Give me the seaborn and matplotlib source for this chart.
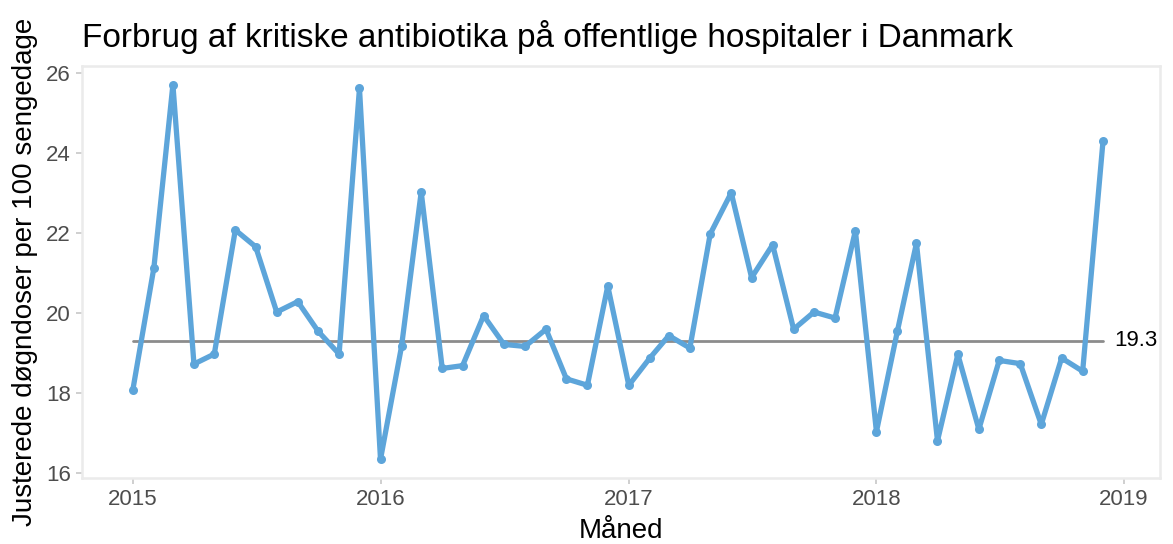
import matplotlib
matplotlib.use("Agg")
import matplotlib.pyplot as plt
import seaborn as sns
import pandas as pd

months = pd.date_range("2015-01-01", "2018-12-01", freq="MS")
values = [18.08, 21.13, 25.70, 18.72, 18.97, 22.07, 21.65, 20.02, 20.28, 19.54, 18.97, 25.61,
          16.34, 19.16, 23.02, 18.61, 18.68, 19.93, 19.21, 19.16, 19.59, 18.35, 18.19, 20.67,
          18.19, 18.87, 19.43, 19.12, 21.97, 23.00, 20.88, 21.70, 19.59, 20.02, 19.87, 22.05,
          17.03, 19.55, 21.74, 16.80, 18.96, 17.09, 18.81, 18.73, 17.21, 18.87, 18.54, 24.29]
mean_value = 19.3
year_ticks = ["2015", "2016", "2017", "2018", "2019"]
y_ticks = [16, 18, 20, 22, 24, 26]

title = "Forbrug af kritiske antibiotika på offentlige hospitaler i Danmark"
xlabel = "Måned"
ylabel = "Justerede døgndoser per 100 sengedage"

sns.set_theme(style="white")
plt.rcParams["font.family"] = ["Liberation Sans", "DejaVu Sans"]

df = pd.DataFrame({"Måned": months, "value": values})

fig = plt.figure(figsize=(11.73, 5.44), dpi=100)
ax = fig.add_axes([82/1173, 1 - 478/544, (1160-82)/1173, (478-66)/544])

ax.plot([months[0], months[-1]], [mean_value, mean_value], color="#8C8C8C", lw=2.0, zorder=1)
sns.lineplot(data=df, x="Måned", y="value", ax=ax, color="#5DA5DA", lw=3.8,
             marker="o", markersize=6.5, markeredgewidth=0, zorder=2)
ax.text(months[-1] + pd.Timedelta(days=17), mean_value, f"{mean_value}", va="center", ha="left",
        fontsize=16, color="black")

ax.set_xlim(pd.Timestamp("2014-10-18"), pd.Timestamp("2019-02-23"))
vmin, vmax = min(values), max(values)
ax.set_ylim(vmin - (vmax - vmin) * 0.05, vmax + (vmax - vmin) * 0.05)

ax.set_xticks([pd.Timestamp(f"{y}-01-01") for y in year_ticks])
ax.set_xticklabels(year_ticks)
ax.set_yticks(y_ticks)

for s in ax.spines.values():
    s.set_color("#EBEBEB")
    s.set_linewidth(1.8)
ax.tick_params(axis="both", which="major", length=4, width=1.3, color="#CCCCCC",
               labelcolor="#4D4D4D", labelsize=16, bottom=True, left=True, pad=4)

ax.set_title(title, fontsize=24, loc="left", x=0.0, pad=14, color="black")
ax.set_xlabel(xlabel, fontsize=20, color="black", labelpad=6)
ax.set_ylabel(ylabel, fontsize=20, color="black", labelpad=6)

fig.savefig("out.png", dpi=100)
